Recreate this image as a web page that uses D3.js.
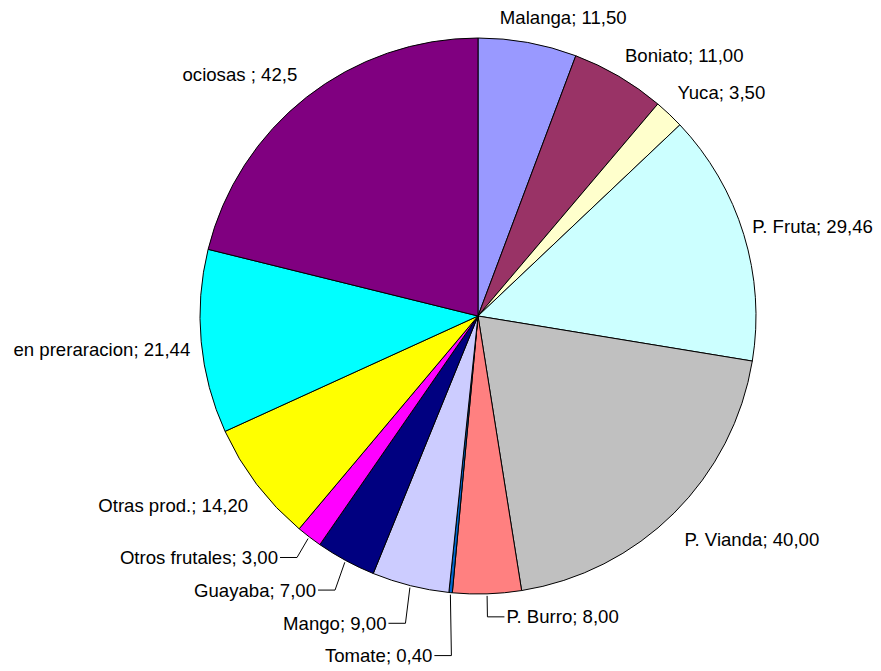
<!DOCTYPE html>
<html>
<head>
<meta charset="utf-8">
<script src="https://cdn.jsdelivr.net/npm/d3@7"></script>
<style>
  body { margin: 0; background: #fff; }
  svg { display: block; }
</style>
</head>
<body>
<svg width="881" height="671"></svg>
<script>
//-- data --//
const categories = ["Malanga", "Boniato", "Yuca", "P. Fruta", "P. Vianda", "P. Burro", "Tomate",
  "Mango", "Guayaba", "Otros frutales", "Otras prod.", "en preraracion", "ociosas "];
const values = [11.5, 11, 3.5, 29.46, 40, 8, 0.4, 9, 7, 3, 14.2, 21.44, 42.5];
const valueText = ["11,50", "11,00", "3,50", "29,46", "40,00", "8,00", "0,40",
  "9,00", "7,00", "3,00", "14,20", "21,44", "42,5"];
const colors = ["#9999FF", "#993366", "#FFFFCC", "#CCFFFF", "#C0C0C0", "#FF8080", "#0066CC",
  "#CCCCFF", "#000080", "#FF00FF", "#FFFF00", "#00FFFF", "#800080"];

//-- label nudges from the default spot (px), and which get a leader line --//
const nudge = [[-30, -13], [0, -11], [0, -13], [-3, -4], [2, 18], [19, 11], [-17, 51],
  [-21, 26], [-24, 19], [-24, 11], [1, 14], [1, 7], [-2, -13]];
const leader = [false, false, false, false, false, true, true, true, true, true, false, false, false];

const data = categories.map((name, i) => ({name, value: values[i], text: valueText[i], color: colors[i], i}));

const cx = 478, cy = 316, r = 278;

const svg = d3.select("svg");
const g = svg.append("g").attr("transform", `translate(${cx},${cy})`);

const pie = d3.pie().sort(null).value(d => d.value);
const arc = d3.arc().innerRadius(0).outerRadius(r);
const arcs = pie(data);

g.selectAll("path.slice")
  .data(arcs)
  .join("path")
  .attr("class", "slice")
  .attr("d", arc)
  .attr("fill", d => d.data.color)
  .attr("stroke", "#000")
  .attr("stroke-width", 1)
  .attr("stroke-linejoin", "round");

const polar = (a, rad) => [rad * Math.sin(a), -rad * Math.cos(a)];

const labels = arcs.map(d => {
  const mid = (d.startAngle + d.endAngle) / 2;
  const [px, py] = polar(mid, r + 12);
  const right = Math.sin(mid) > 0;
  const [dx, dy] = nudge[d.data.i];
  return {d, mid, right, x: px + dx, y: py + dy};
});

// leaders
labels.filter(l => leader[l.d.data.i]).forEach(l => {
  const [ax, ay] = polar(l.mid, r + 2);
  const s = l.right ? -1 : 1;
  const pts = [[ax, ay], [l.x + s * 19, l.y], [l.x + s * 2, l.y]];
  g.append("path")
    .attr("d", d3.line()(pts))
    .attr("fill", "none")
    .attr("stroke", "#000")
    .attr("stroke-width", 1);
});

g.selectAll("text.lbl")
  .data(labels)
  .join("text")
  .attr("class", "lbl")
  .attr("x", l => l.x)
  .attr("y", l => l.y)
  .attr("dy", "0.35em")
  .attr("text-anchor", l => l.right ? "start" : "end")
  .style("font", "18.6px 'Liberation Sans', Arial, sans-serif")
  .attr("fill", "#000")
  .text(l => `${l.d.data.name}; ${l.d.data.text}`);
</script>
</body>
</html>
